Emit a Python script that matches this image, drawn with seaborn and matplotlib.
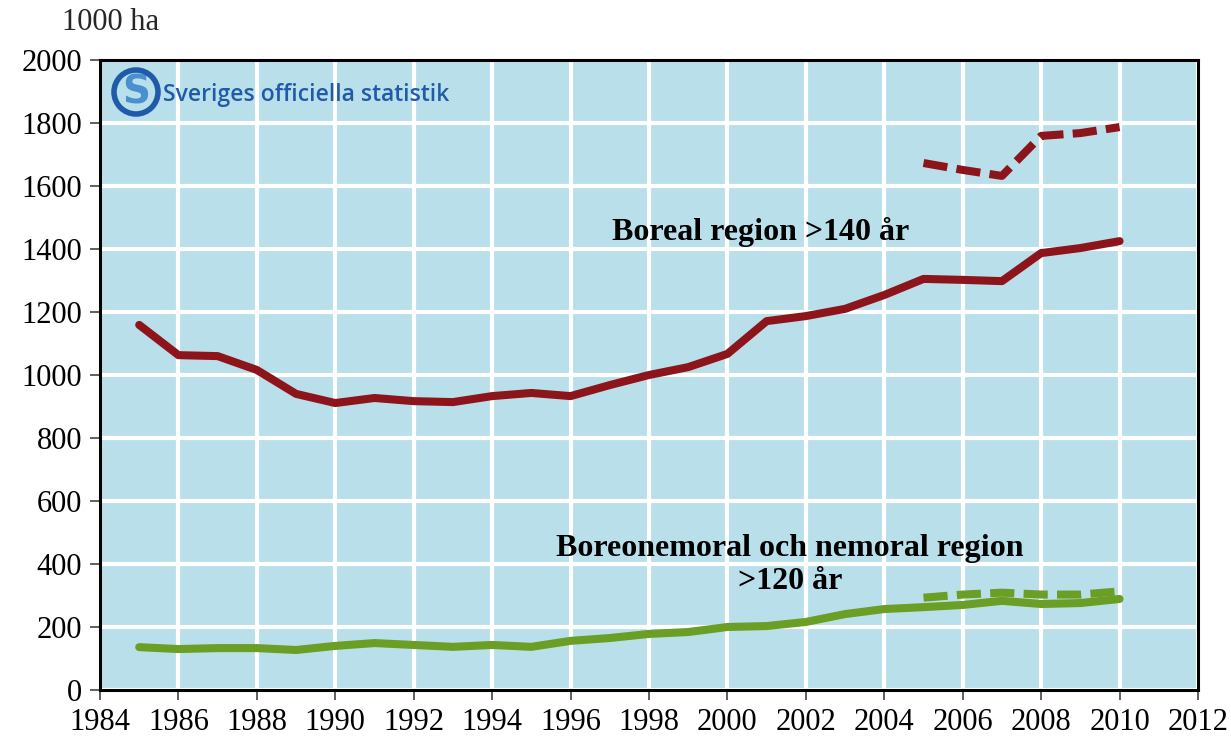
import numpy as np
import pandas as pd
import matplotlib
matplotlib.use("Agg")
import matplotlib.pyplot as plt
import seaborn as sns
from matplotlib.patches import Circle

years = list(range(1985, 2011))
boreal = [1159, 1063, 1060, 1016, 940, 911, 927, 917, 914, 933, 943, 933, 968,
          1000, 1025, 1067, 1171, 1187, 1210, 1254, 1305, 1302, 1298, 1387, 1403, 1425]
years_new = list(range(2005, 2011))
boreal_new = [1673, 1651, 1632, 1759, 1768, 1787]
nemoral = [136, 130, 133, 133, 127, 140, 149, 143, 137, 143, 137, 156, 165,
           178, 184, 200, 203, 216, 241, 257, 263, 270, 283, 273, 276, 289]
nemoral_new = [293, 303, 309, 303, 303, 313]

xticks = list(range(1984, 2013, 2))
yticks = list(range(0, 2001, 200))

sns.set_theme(style="white")
plt.rcParams['font.family'] = ['Liberation Serif', 'DejaVu Serif']

red = "#8E141C"
green = "#6A9E25"
bg = "#B9E0EA"

fig = plt.figure(figsize=(12.31, 7.42), dpi=100)
ax = fig.add_axes([100/1231, 1-690/742, (1198-100)/1231, (690-60)/742])
ax.set_facecolor(bg)

df1 = pd.DataFrame({"year": years, "value": boreal})
df2 = pd.DataFrame({"year": years_new, "value": boreal_new})
df3 = pd.DataFrame({"year": years, "value": nemoral})
df4 = pd.DataFrame({"year": years_new, "value": nemoral_new})

lw = 5.8
sns.lineplot(data=df1, x="year", y="value", ax=ax, color=red, lw=lw, zorder=3)
sns.lineplot(data=df2, x="year", y="value", ax=ax, color=red, lw=lw, zorder=3)
ax.lines[-1].set_dashes((3.0, 1.15))
sns.lineplot(data=df4, x="year", y="value", ax=ax, color=green, lw=lw, zorder=3)
ax.lines[-1].set_dashes((3.0, 1.15))
sns.lineplot(data=df3, x="year", y="value", ax=ax, color=green, lw=lw, zorder=4)

ax.set_xlim(1984, 2012)
ax.set_ylim(0, 2000)
ax.set_xticks(xticks)
ax.set_yticks(yticks)
ax.set_xlabel("")
ax.set_ylabel("")
ax.grid(True, color="white", lw=3)
ax.set_axisbelow(True)
for s in ax.spines.values():
    s.set_visible(True)
    s.set_color("black")
    s.set_linewidth(2.2)
ax.tick_params(axis="both", which="both", direction="out", length=7, width=1.2,
               color="#444444", labelcolor="black", pad=6,
               left=True, bottom=True)
for lab in ax.get_xticklabels() + ax.get_yticklabels():
    lab.set_fontfamily(['Liberation Serif'])
    lab.set_fontsize(22)

ax.text(2000.85, 1454, "Boreal region >140 år", ha="center", va="center",
        fontsize=23, fontweight="bold", color="black")
ax.text(2001.6, 448, "Boreonemoral och nemoral region", ha="center", va="center",
        fontsize=23, fontweight="bold", color="black")
ax.text(2001.6, 343, ">120 år", ha="center", va="center",
        fontsize=23, fontweight="bold", color="black")

fig.text(62/1231, 1-22/742, "1000 ha", ha="left", va="center", fontsize=22)

# logo
logo_blue = "#1F5BA8"
cx, cy = 136/1231, 1-92/742
circ = Circle((cx*1231, cy*742), 22, transform=None, facecolor="none",
              edgecolor=logo_blue, lw=4, zorder=6)
fig.patches.append(circ)
fig.text(cx, cy, "S", ha="center", va="center", fontsize=28, fontweight="bold",
         color="#4A90D0", family=['DejaVu Sans'])
fig.text(163/1231, 1-95/742, "Sveriges officiella statistik", ha="left", va="center",
         fontsize=16.5, color=logo_blue, family=['Open Sans', 'DejaVu Sans'],
         fontweight="semibold")

fig.savefig("out.png", dpi=100)
